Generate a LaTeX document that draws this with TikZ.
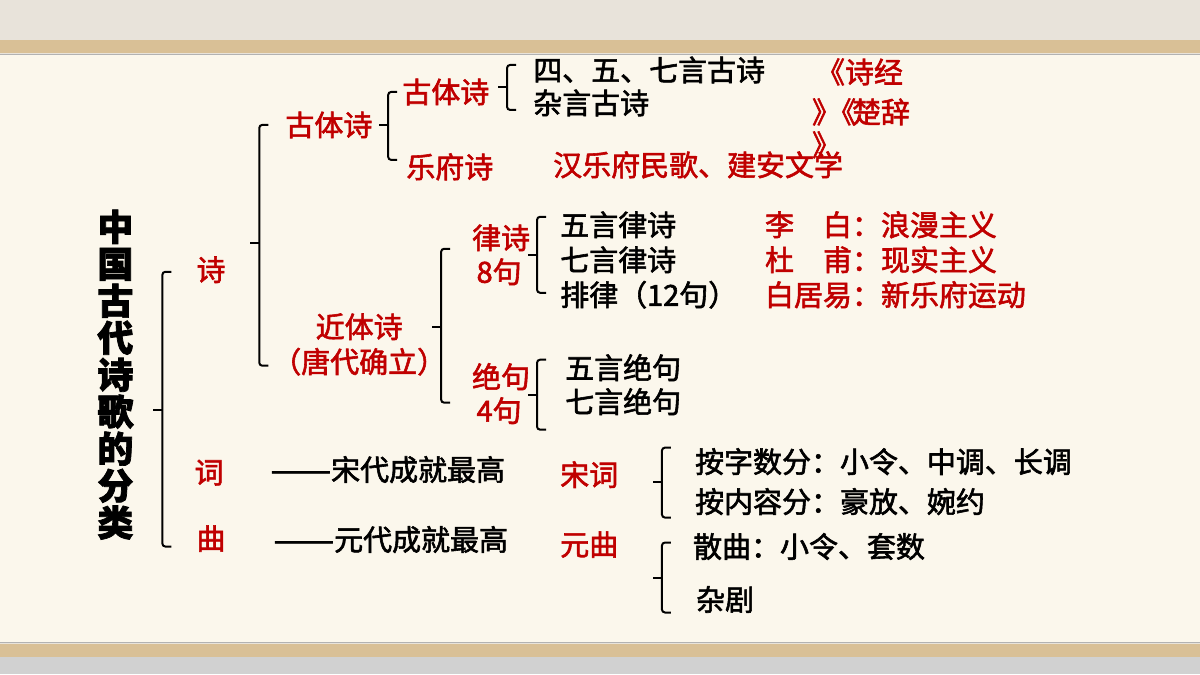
\documentclass[tikz,border=0pt]{standalone}
\usepackage{fontspec}
\setmainfont{Noto Sans CJK SC}[FakeBold=2]
\usepackage{xcolor}
\definecolor{hong}{HTML}{C00000}
\definecolor{paper}{HTML}{FBF7EC}
\definecolor{wood}{HTML}{D9C096}
\definecolor{stone}{HTML}{E8E3DA}
\newcommand{\treebrace}[4] {
    \draw[brace] ({#1+9}, {#2}) -- ({#1}, {#2}) -- ({#1}, {#4}) -- ({#1+9}, {#4});
    \draw[brace] ({#1}, {#3}) -- ({#1-9}, {#3});
}
\newcommand{\longdash}{\scalebox{1.25}[1]{——}}
\tikzset{
    brace/.style={line width=2pt, rounded corners=3pt},
    txt/.style={
        font=\fontsize{29}{31}\selectfont,
        inner sep=0pt,
        anchor=west
    },
    cat/.style={txt, text=hong},
    item/.style={txt, text=black}
}

\begin{document}
\begin{tikzpicture}[x=1pt, y=-1pt]
    % background
    \fill[stone] (0,0) rectangle (1200,675);
    \fill[wood] (0,40) rectangle (1200,53);
    \fill[paper] (0,55) rectangle (1200,643);
    \draw[black!30, line width=1pt] (0,55) -- (1200,55);
    \draw[black!30, line width=1pt] (0,643) -- (1200,643);
    \fill[wood] (0,645) rectangle (1200,658);
    \fill[black!18] (0,658) rectangle (1200,675);
    \useasboundingbox (0,0) rectangle (1200,675);
    % title
    \node[font=\bfseries\fontsize{36}{37}\selectfont, align=center, inner sep=0pt] (title) at (115, 375)
        {中\\国\\古\\代\\诗\\歌\\的\\分\\类};
    % brackets
    \treebrace{162}{272}{410}{547}
    \treebrace{259}{125}{243}{366}
    \treebrace{388}{92}{125}{160}
    \treebrace{507}{65}{87}{110}
    \treebrace{441}{249}{327}{403}
    \treebrace{537}{217}{255}{293}
    \treebrace{537}{360}{395}{430}
    \treebrace{662}{448}{482}{518}
    \treebrace{662}{543}{578}{613}
    % level 1
    \node[cat] (shi) at (196, 270) {诗};
    \node[cat] (ci) at (194, 473) {词};
    \node[cat] (qu) at (196, 539) {曲};
    \node[item] (cinote) at (270, 470) {\longdash 宋代成就最高};
    \node[item] (qunote) at (273, 540) {\longdash 元代成就最高};
    % gu ti shi
    \node[cat] (gutishi) at (285, 125) {古体诗};
    \node[cat] (guti) at (402, 92) {古体诗};
    \node[cat] (yuefu) at (406, 167) {乐府诗};
    \node[item] (siwuqi) at (533, 70) {四、五、七言古诗};
    \node[item] (zayan) at (533, 103) {杂言古诗};
    \node[cat] (shijing) at (816, 72) {《诗经};
    \node[cat] (chuci) at (812, 112) {》\kern-14pt《\kern-4pt 楚辞};
    \node[cat] (close) at (812, 145) {》};
    \node[cat] (hanyuefu) at (553, 165) {汉乐府民歌、建安文学};
    % jin ti shi
    \node[cat, anchor=center] (jinti) at (359, 327) {近体诗};
    \node[cat, anchor=center] (tang) at (359, 362) {（唐代确立）};
    \node[cat, anchor=center] (lvshi) at (501, 238) {律诗};
    \node[cat, anchor=center] (ba) at (499, 272) {8句};
    \node[cat, anchor=center] (jueju) at (501, 377) {绝句};
    \node[cat, anchor=center] (si) at (499, 411) {4句};
    \node[item] (wulv) at (560, 225) {五言律诗};
    \node[item] (qilv) at (560, 260) {七言律诗};
    \node[item] (pailv) at (560, 295) {排律（12句）};
    \node[cat] (libai) at (765, 225) {李　白：浪漫主义};
    \node[cat] (dufu) at (765, 260) {杜　甫：现实主义};
    \node[cat] (baijuyi) at (765, 295) {白居易：新乐府运动};
    \node[item] (wujue) at (565, 368) {五言绝句};
    \node[item] (qijue) at (565, 402) {七言绝句};
    % ci and qu
    \node[cat] (songci) at (560, 475) {宋词};
    \node[cat] (yuanqu) at (560, 545) {元曲};
    \node[item] (zishu) at (695, 462) {按字数分：小令、中调、长调};
    \node[item] (neirong) at (695, 502) {按内容分：豪放、婉约};
    \node[item] (sanqu) at (693, 547) {散曲：小令、套数};
    \node[item] (zaju) at (696, 600) {杂剧};
\end{tikzpicture}
\end{document}
